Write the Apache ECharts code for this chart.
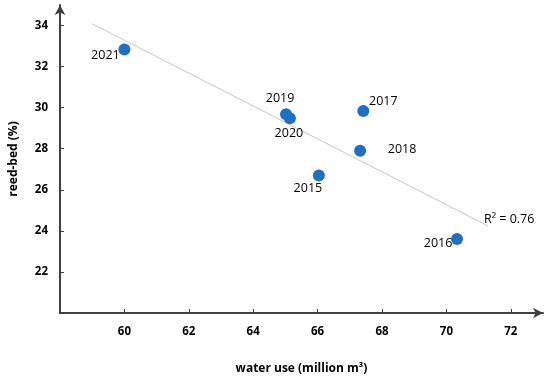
<!DOCTYPE html>
<html>
<head>
<meta charset="utf-8">
<script src="https://cdn.jsdelivr.net/npm/echarts@6/dist/echarts.min.js"></script>
<style>html,body{margin:0;padding:0;background:#fff;}#c{width:550px;height:382px;}</style>
</head>
<body>
<div id="c"></div>
<script>
var years = ['2015', '2016', '2017', '2018', '2019', '2020', '2021'];
var waterUse = [66.04, 70.33, 67.42, 67.32, 65.02, 65.14, 60.0];
var reedBed = [26.7, 23.6, 29.84, 27.9, 29.68, 29.49, 32.83];
var labelOffsets = [[-11, 13], [-19, 4], [20, -10], [42, -1], [-6, -16], [-1, 15], [-19, 6]];
var trendX = [59.01, 71.29];
var trendY = [34.08, 24.24];
var rSquaredText = 'R\u00b2 = 0.76';
var xTicks = [60, 62, 64, 66, 68, 70, 72];
var yTicks = [22, 24, 26, 28, 30, 32, 34];

var font = '"Open Sans", "Liberation Sans", sans-serif';
var chart = echarts.init(document.getElementById('c'));

var scatterData = years.map(function (y, i) {
  return {
    value: [waterUse[i], reedBed[i]],
    name: y,
    label: { offset: labelOffsets[i] }
  };
});

var trendData = trendX.map(function (x, i) {
  return [x, trendY[i]];
});

var axisLineStyle = { color: '#404040', width: 2 };

chart.setOption({
  animation: false,
  backgroundColor: '#fff',
  grid: { left: 59, right: 7, top: 5, bottom: 69, containLabel: false },
  xAxis: {
    type: 'value', min: 58, max: 73, interval: 1,
    splitLine: { show: false },
    axisLine: { show: true, lineStyle: axisLineStyle, symbol: ['none', 'arrow'], symbolSize: [8, 10] },
    axisTick: { show: true, inside: true, length: 4, lineStyle: { color: '#404040', width: 1 }, customValues: xTicks },
    axisLabel: { customValues: xTicks, margin: 13, fontSize: 11.5, fontWeight: 'bold', color: '#000', fontFamily: font },
    name: 'water use (million m\u00b3)', nameLocation: 'middle', nameGap: 50,
    nameTextStyle: { fontSize: 12, fontWeight: 'bold', color: '#000', fontFamily: font }
  },
  yAxis: {
    type: 'value', min: 20, max: 35, interval: 1,
    splitLine: { show: false },
    axisLine: { show: true, lineStyle: axisLineStyle, symbol: ['none', 'arrow'], symbolSize: [8, 10] },
    axisTick: { show: true, inside: true, length: 4, lineStyle: { color: '#404040', width: 1 }, customValues: yTicks },
    axisLabel: { customValues: yTicks, margin: 12, fontSize: 11.5, fontWeight: 'bold', color: '#000', fontFamily: font },
    name: 'reed-bed (%)', nameLocation: 'middle', nameGap: 40, nameRotate: 90,
    nameTextStyle: { fontSize: 12, fontWeight: 'bold', color: '#000', fontFamily: font }
  },
  series: [
    {
      type: 'line',
      data: trendData,
      showSymbol: false,
      symbol: 'none',
      lineStyle: { color: '#c8c8c8', width: 1 },
      silent: true,
      endLabel: {
        show: true, formatter: rSquaredText, distance: 0, offset: [-4, -7],
        color: '#000', fontSize: 12.5, fontFamily: font
      },
      z: 1
    },
    {
      type: 'scatter',
      data: scatterData,
      symbolSize: 12,
      itemStyle: { color: '#1f6fc5', opacity: 1 },
      label: {
        show: true, position: 'inside', formatter: '{b}',
        color: '#000', fontSize: 12.5, fontFamily: font
      },
      z: 3
    }
  ]
});
</script>
</body>
</html>
